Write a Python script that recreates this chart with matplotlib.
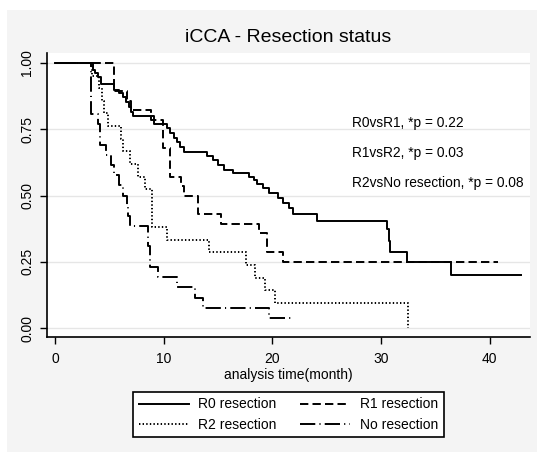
import matplotlib
matplotlib.use("Agg")
import matplotlib.pyplot as plt
from matplotlib.patches import Rectangle

plt.rcParams["font.family"] = ["Liberation Sans", "DejaVu Sans"]
plt.rcParams["lines.scale_dashes"] = False

# -------------------------------------------------
# Kaplan-Meier step data
# -------------------------------------------------
r0_time = [0, 3.45, 3.65, 3.95, 4.25, 5.45, 5.9, 6.2, 6.5, 6.8, 7.0, 7.2, 9.1, 10.3,
           10.6, 10.9, 11.2, 11.5, 11.85, 14.0, 14.5, 15.0, 15.5, 16.4, 17.8, 18.3,
           18.6, 19.1, 19.7, 20.5, 21.0, 21.5, 21.9, 24.1, 30.55, 30.7, 30.8, 32.4,
           36.4, 42.9]
r0_surv = [1.0, 0.973, 0.96, 0.947, 0.919, 0.898, 0.885, 0.872, 0.853, 0.835, 0.816,
           0.80, 0.77, 0.753, 0.735, 0.717, 0.70, 0.684, 0.665, 0.648, 0.632, 0.615,
           0.598, 0.584, 0.571, 0.558, 0.545, 0.528, 0.51, 0.49, 0.473, 0.454, 0.429,
           0.404, 0.373, 0.33, 0.289, 0.25, 0.20, 0.20]

r1_time = [0, 5.4, 6.6, 7.0, 8.8, 9.95, 10.6, 11.6, 11.9, 13.1, 15.3, 18.8, 19.5,
           21.0, 40.8]
r1_surv = [1.0, 0.893, 0.857, 0.821, 0.786, 0.679, 0.571, 0.536, 0.5, 0.429, 0.393,
           0.357, 0.286, 0.25, 0.25]

r2_time = [0, 3.4, 4.0, 4.3, 4.5, 4.9, 6.1, 6.2, 6.9, 7.65, 8.26, 8.9, 10.26, 14.2,
           17.6, 18.4, 19.3, 20.2, 32.5]
r2_surv = [1.0, 0.952, 0.905, 0.857, 0.81, 0.762, 0.714, 0.667, 0.619, 0.571, 0.524,
           0.381, 0.333, 0.286, 0.238, 0.19, 0.143, 0.095, 0.0]

nr_time = [0, 3.3, 3.9, 4.1, 4.7, 5.1, 5.4, 5.9, 6.2, 6.6, 6.7, 6.9, 8.55, 8.7, 9.5,
           11.2, 12.9, 13.6, 19.7, 21.9]
nr_surv = [1.0, 0.808, 0.769, 0.692, 0.654, 0.615, 0.577, 0.538, 0.5, 0.462, 0.423,
           0.385, 0.308, 0.231, 0.192, 0.154, 0.115, 0.077, 0.038, 0.038]

group_labels = ["R0 resection", "R1 resection", "R2 resection", "No resection"]
p_notes = ["R0vsR1, *p = 0.22", "R1vsR2, *p = 0.03", "R2vsNo resection, *p = 0.08"]
y_ticks = [0, 0.25, 0.5, 0.75, 1.0]
x_ticks = [0, 10, 20, 30, 40]

# -------------------------------------------------
# Figure
# -------------------------------------------------
fig = plt.figure(figsize=(5.37, 4.54), dpi=100)
fig.patch.set_facecolor("white")
fig.patches.append(Rectangle((7 / 537, 2 / 454), 1 - 7 / 537, 442 / 454,
                             transform=fig.transFigure, facecolor="#f4f4f4",
                             edgecolor="none", zorder=-10))

ax = fig.add_axes([46.5 / 537, 1 - 336.7 / 454, (530 - 46.5) / 537, (336.7 - 53) / 454])
ax.set_facecolor("white")
ax.set_zorder(1)

l0, = ax.step(r0_time, r0_surv, where="post", color="black", lw=1.4, linestyle="-")
l1, = ax.step(r1_time, r1_surv, where="post", color="black", lw=1.4,
              linestyle=(0, (6, 3)))
l2, = ax.step(r2_time, r2_surv, where="post", color="black", lw=1.4,
              linestyle=(0, (1, 1.6)))
l3, = ax.step(nr_time, nr_surv, where="post", color="black", lw=1.4,
              linestyle=(0, (11, 3, 0.8, 3)))

ax.set_xlim(-0.8, 43.7)
ax.set_ylim(-0.032, 1.037)
ax.set_xticks(x_ticks)
ax.set_yticks(y_ticks)
ax.set_yticklabels([f"{v:.2f}" for v in y_ticks], rotation=90, va="center")
ax.tick_params(axis="both", direction="out", length=5, width=1, labelsize=10,
               colors="black")
ax.tick_params(axis="x", pad=6)
ax.tick_params(axis="y", pad=4)

for side in ["top", "right"]:
    ax.spines[side].set_visible(False)
for side in ["left", "bottom"]:
    ax.spines[side].set_linewidth(1.2)

ax.grid(axis="y", color="#e6e6e6", lw=1)
ax.set_axisbelow(True)

fig.text(288 / 537, 1 - 375 / 454, "analysis time(month)", ha="center", va="center",
         fontsize=10)
fig.text(288 / 537, 1 - 37 / 454, "iCCA - Resection status", ha="center", va="center",
         fontsize=14)

for i, note in enumerate(p_notes):
    fig.text(351.7 / 537, 1 - (123.3 + 30 * i) / 454, note, ha="left", va="center",
             fontsize=9.9, zorder=5)

# legend reads row by row: R0, R1 / R2, No resection
leg = fig.legend([l0, l2, l1, l3],
                 [group_labels[0], group_labels[2], group_labels[1], group_labels[3]],
                 ncol=2, loc="center",
                 bbox_to_anchor=(288.4 / 537, 1 - 414.5 / 454),
                 fontsize=10, handlelength=3.6, handletextpad=0.7,
                 columnspacing=1.7, labelspacing=0.45, borderpad=0.4,
                 fancybox=False, framealpha=1)
leg.get_frame().set_edgecolor("black")
leg.get_frame().set_linewidth(1.2)

fig.savefig("out.png", dpi=100)
